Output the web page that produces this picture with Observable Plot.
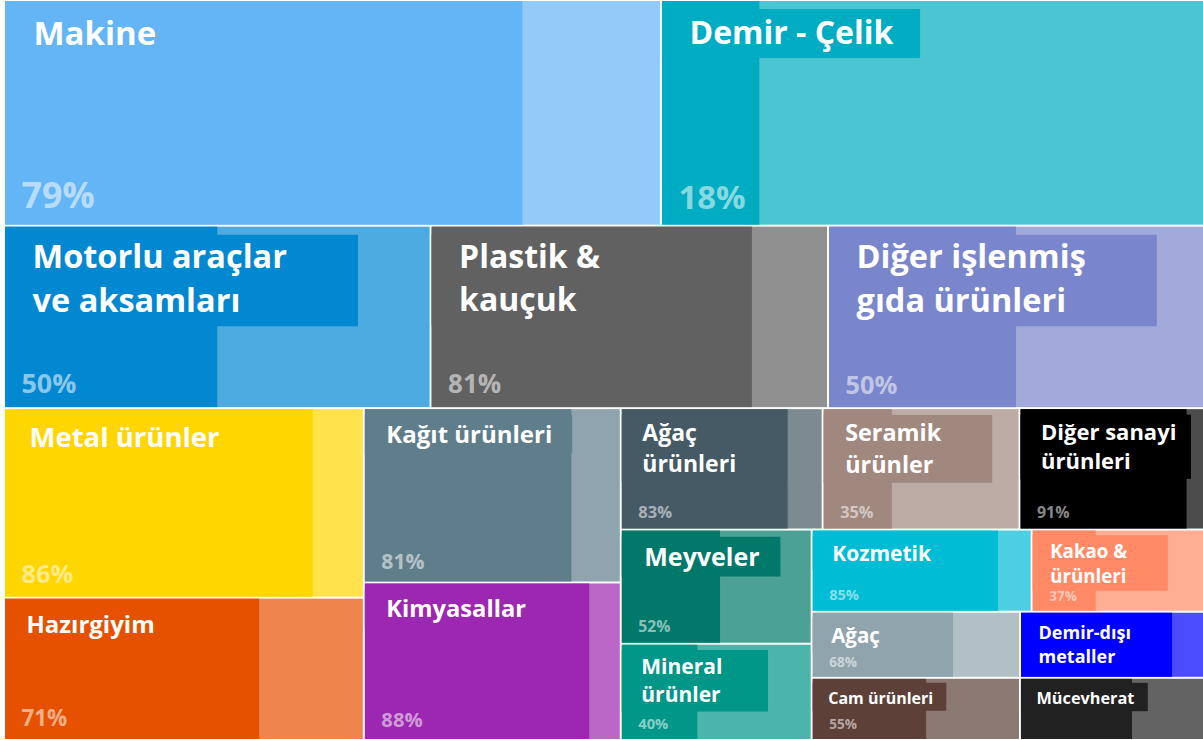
<!DOCTYPE html>
<html><head><meta charset="utf-8">
<script src="https://cdn.jsdelivr.net/npm/d3@7"></script>
<script src="https://cdn.jsdelivr.net/npm/@observablehq/plot@0.6"></script>
<style>html,body{margin:0;padding:0;background:#fff;} #chart svg{display:block}</style>
</head><body><div id="chart"></div>
<script>
// ---------- DATA ----------
const categories = ["Makine","Demir - Çelik","Motorlu araçlar\nve aksamları","Plastik &\nkauçuk","Diğer işlenmiş\ngıda ürünleri","Metal ürünler","Hazırgiyim","Kağıt ürünleri","Kimyasallar","Ağaç\nürünleri","Seramik\nürünler","Diğer sanayi\nürünleri","Meyveler","Mineral\nürünler","Kozmetik","Kakao &\nürünleri","Ağaç","Demir-dışı\nmetaller","Cam ürünleri","Mücevherat"];
const values = [1476,1220,775,722,683,679,510,446,403,244,238,223,217,183,180,141,137,121,129,114];
const shares = [79,18,50,81,50,86,71,81,88,83,35,91,52,40,85,37,68,83,55,61];
const hiddenShareLabels = ["Demir-dışı\nmetaller","Mücevherat"];
const colors = ["#64b5f6","#00acc1","#0288d1","#616161","#7986cb","#ffd600","#e65100","#607d8b","#9c27b0","#455a64","#a1887f","#000000","#00796b","#009688","#00bcd4","#ff8a65","#90a4ae","#0000ff","#5d4037","#212121"];

// grouping of the treemap (indices into categories); "h" = side by side, "v" = stacked
const groups = {dir:"v", children:[
  {dir:"h", children:[0,1]},
  {dir:"h", children:[2,3,4]},
  {dir:"h", children:[
    {dir:"v", children:[5,6]},
    {dir:"v", children:[7,8]},
    {dir:"v", children:[
      {dir:"h", children:[9,10,11]},
      {dir:"h", children:[
        {dir:"v", children:[12,13]},
        {dir:"v", children:[
          {dir:"h", children:[14,15]},
          {dir:"h", children:[16,17]},
          {dir:"h", children:[18,19]}]}]}]}]}]};

// ---------- STYLE ----------
const FONT = '"Open Sans", "Segoe UI", sans-serif';
const titleSize = new Map([["Makine",33],["Demir - Çelik",32],["Motorlu araçlar\nve aksamları",32.5],["Plastik &\nkauçuk",32],["Diğer işlenmiş\ngıda ürünleri",32.5],["Metal ürünler",27.5],["Hazırgiyim",24],["Kağıt ürünleri",24],["Kimyasallar",23.7],["Ağaç\nürünleri",23],["Seramik\nürünler",23.4],["Diğer sanayi\nürünleri",22],["Meyveler",25],["Mineral\nürünler",21],["Kozmetik",21],["Kakao &\nürünleri",18.7],["Ağaç",20.5],["Demir-dışı\nmetaller",18],["Cam ürünleri",16],["Mücevherat",16.3]]);
const LH = 1.34;

// ---------- LAYOUT ----------
const W = 1198, H = 738;
const hier = d3.hierarchy(groups, d => d.children ? d.children.map(c => typeof c === "number" ? {i: c} : c) : null)
  .sum(d => d.i !== undefined ? values[d.i] : 0);
const root = d3.treemap().size([W, H]).paddingInner(2)
  .tile((node, x0, y0, x1, y1) => (node.data.dir === "h" ? d3.treemapDice : d3.treemapSlice)(node, x0, y0, x1, y1))(hier);

const ctx = document.createElement("canvas").getContext("2d");
function textW(s, fs) { ctx.font = `700 ${fs}px ${FONT}`; return d3.max(s.split("\n"), l => ctx.measureText(l).width); }

const cells = root.leaves().map(n => {
  const i = n.data.i, name = categories[i];
  const w = n.x1 - n.x0, h = n.y1 - n.y0;
  const fs = titleSize.get(name);
  const lines = name.split("\n").length;
  const tx = n.x0 + Math.round(0.75 * fs + 3);
  const firstBase = n.y0 + (lines > 1 ? 1.05 : 1.1) * fs + 7;
  const ty = firstBase + (lines - 1) * LH * fs;
  const bx2 = Math.min(n.x1 - 12, tx + textW(name, fs) + (lines > 1 ? 2.2 : 0.85) * fs);
  const by1 = n.y0 + 0.25 * fs;
  const by2 = Math.min(n.y1, ty + 0.46 * fs);
  const pfs = 1.13 * Math.max(12, 3 + 0.075 * Math.sqrt(w * h));
  const py = n.y1 - (0.3 * pfs + 6.5);
  return {name, value: values[i], share: shares[i], x0: n.x0, x1: n.x1, y0: n.y0, y1: n.y1,
    xs: n.x0 + shares[i] / 100 * w, fs, tx, ty, bx2, by1, by2, pfs, py, px: n.x0 + 16};
});

const chart = Plot.plot({
  width: 1203, height: 740,
  marginLeft: 5, marginRight: 0, marginTop: 1, marginBottom: 1,
  x: {domain: [0, W], axis: null},
  y: {domain: [0, H], reverse: true, axis: null},
  color: {domain: categories, range: colors},
  style: {fontFamily: FONT, background: "#fff"},
  marks: [
    Plot.rect(cells, {x1: "x0", x2: "x1", y1: "y0", y2: "y1", fill: "name", fillOpacity: 0.7}),
    Plot.rect(cells, {x1: "x0", x2: "xs", y1: "y0", y2: "y1", fill: "name"}),
    Plot.rect(cells, {x1: "x0", x2: "bx2", y1: "by1", y2: "by2", fill: "name"}),
    Plot.text(cells, {x: "tx", y: "ty", text: "name", fill: "white", fontSize: "fs", fontWeight: 700,
      textAnchor: "start", lineAnchor: "bottom", lineHeight: LH}),
    Plot.text(cells.filter(d => !hiddenShareLabels.includes(d.name)), {x: "px", y: "py", text: d => d.share + "%",
      fill: "white", fillOpacity: 0.55, fontSize: "pfs", fontWeight: 700, textAnchor: "start", lineAnchor: "bottom"})
  ]
});
document.getElementById("chart").append(chart);
</script>
</body></html>
